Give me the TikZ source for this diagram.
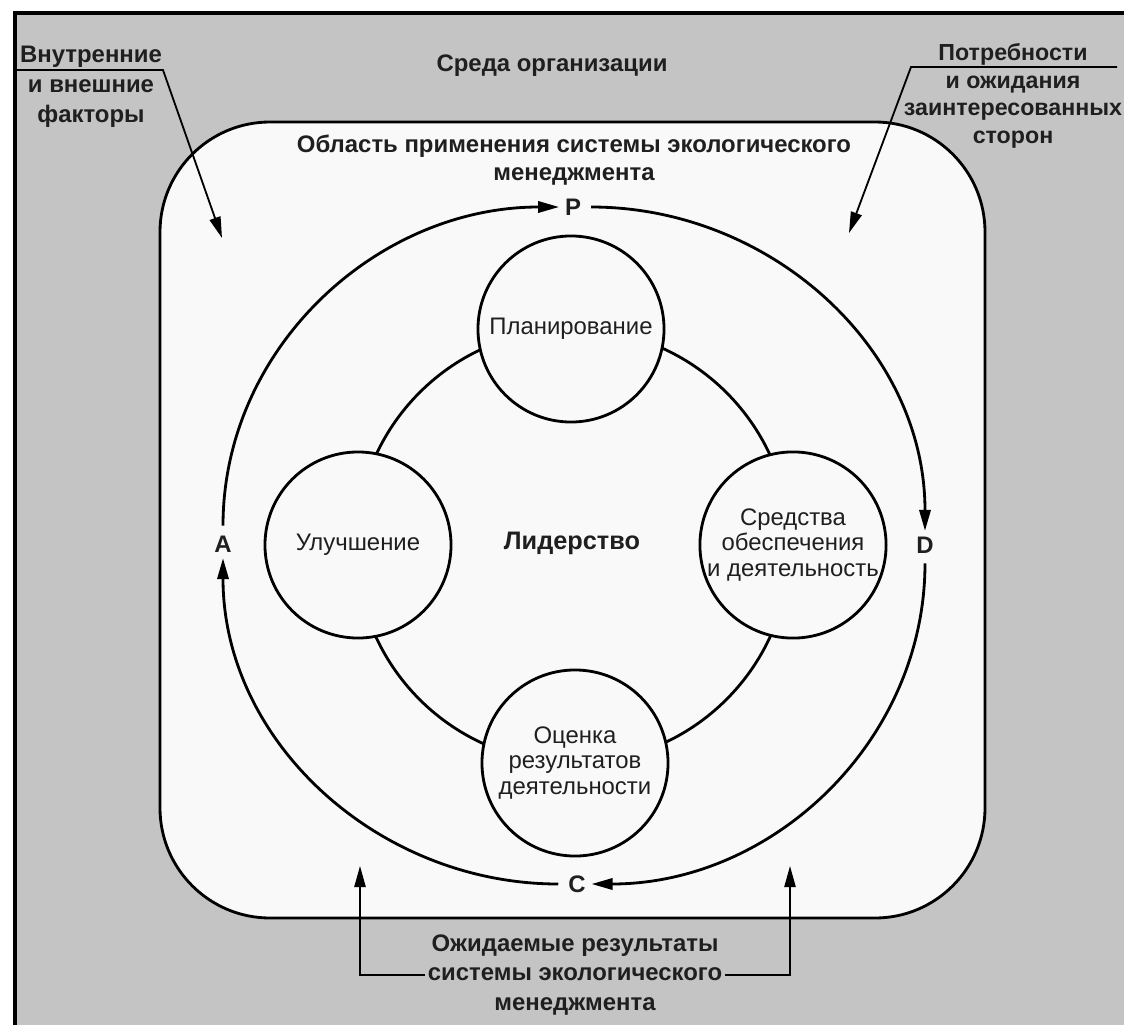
\documentclass[tikz,border=0pt]{standalone}
\usepackage{fontspec}
\setmainfont{Liberation Sans}
\usetikzlibrary{arrows.meta}
\definecolor{envgray}{gray}{0.77}
\definecolor{scopewhite}{gray}{0.975}
\definecolor{inkgray}{gray}{0.12}

\begin{document}
\begin{tikzpicture}[x=0.025cm, y=0.025cm,
		every node/.style={text=inkgray},
		lbl/.style={font=\bfseries\fontsize{17}{20}\selectfont, align=center, inner sep=2pt},
		pdca/.style={font=\bfseries\fontsize{17}{20}\selectfont, inner sep=4pt},
		pdcaarc/.style={line width=2pt, -{Triangle[length=15pt,width=8pt]}, shorten <=3pt},
		pointer/.style={line width=1.3pt, -{Triangle[length=15pt,width=8pt]}}]
		
		\useasboundingbox (0,0) rectangle (1124,-1025);
		
		% environment of the organisation
		\fill[envgray] (15,-13) rectangle (1124,-1025);
		\draw[line width=2.4pt] (15,-1025) -- (15,-13) -- (1124,-13);
		
		% scope of the EMS
		\draw[line width=2pt, fill=scopewhite, rounded corners=2.75cm] (160,-122) rectangle (985,-918);
		
		\node[lbl] (env) 		at (552,-66)  {Среда организации};
		\node[lbl] (scopettl) 	at (574,-160) {Область применения системы экологического\\менеджмента};
		
		\node[lbl, font=\bfseries\fontsize{17}{21.5}\selectfont] (factors) at (91,-87) {Внутренние\\и внешние\\факторы};
		\node[lbl, font=\bfseries\fontsize{16.5}{19.5}\selectfont] (needs) at (1013,-96) {Потребности\\и ожидания\\заинтересованных\\сторон};
		\node[lbl, font=\bfseries\fontsize{17}{21}\selectfont] (results) at (575,-975) {Ожидаемые результаты\\системы экологического\\менеджмента};
		
		\coordinate (fbend) at (163,-70);
		\coordinate (ftip)  at (222,-238);
		\coordinate (nend)  at (1117,-67);
		\coordinate (nbend) at (911,-67);
		\coordinate (ntip)  at (849,-233);
		\coordinate (lup)   at (360,-866);
		\coordinate (rup)   at (790,-866);
		
		\draw[pointer] (factors.west |- fbend) -- (fbend) -- (ftip);
		\draw[pointer] (nend) -- (nbend) -- (ntip);
		\draw[pointer] (results.west) -| (lup);
		\draw[pointer] (results.east) -| (rup);
		
		% leadership ring
		\coordinate (hub) at (573,-546);
		\draw[line width=2pt] (hub) circle[radius=217];
		
		\begin{scope}[every node/.style={circle, draw, line width=2pt, fill=scopewhite, minimum size=4.65cm, inner sep=0pt, align=center, text=inkgray, font=\fontsize{17}{18}\selectfont}]
		\node (plan) 		at (571,-329) {Планирование};
		\node (improve) 	at (358,-545) {Улучшение};
		\node (support) 	at (793,-545) {Средства\\обеспечения\\и деятельность};
		\node (evaluate) 	at (575,-763) {Оценка\\результатов\\деятельности};
		\end{scope}
		
		\node[font=\bfseries\fontsize{18}{20}\selectfont] (lead) at (572,-543) {Лидерство};
		
		% PDCA cycle
		\node[pdca] (P) at (573,-207) {P};
		\node[pdca] (D) at (925,-545) {D};
		\node[pdca] (C) at (577,-884) {C};
		\node[pdca] (A) at (223,-544) {A};
		
		\path[pdcaarc] (A) edge[out=90, in=180] (P);
		\path[pdcaarc] (P) edge[out=0, in=90] (D);
		\path[pdcaarc] (D) edge[out=-90, in=0] (C);
		\path[pdcaarc] (C) edge[out=180, in=-90] (A);
		
\end{tikzpicture}
\end{document}
